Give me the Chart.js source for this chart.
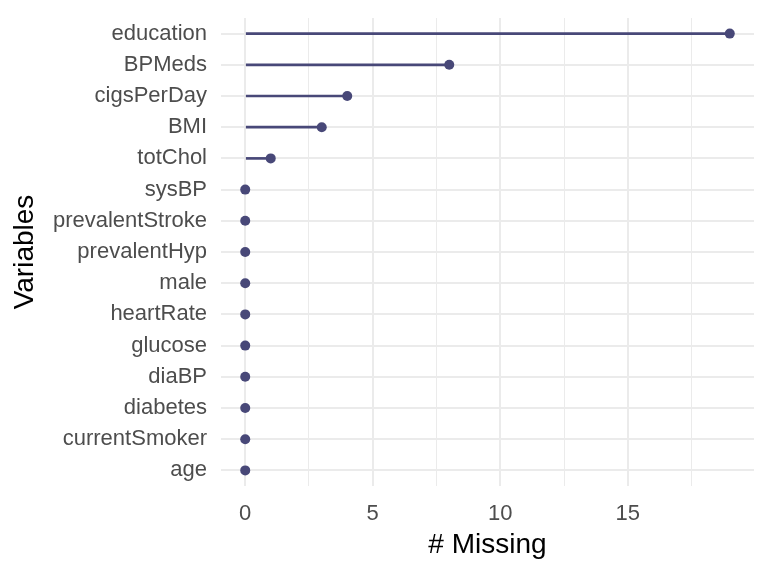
<!DOCTYPE html>
<html>
<head>
<meta charset="utf-8">
<script src="https://cdn.jsdelivr.net/npm/chart.js@4.4.0/dist/chart.umd.min.js"></script>
<style>
  html, body { margin: 0; padding: 0; background: #fff; }
  #wrap { width: 768px; height: 576px; }
</style>
</head>
<body>
<div id="wrap"><canvas id="missChart" width="768" height="576"></canvas></div>
<script>
// variables, top to bottom
const variables = ['education', 'BPMeds', 'cigsPerDay', 'BMI', 'totChol', 'sysBP',
  'prevalentStroke', 'prevalentHyp', 'male', 'heartRate', 'glucose', 'diaBP',
  'diabetes', 'currentSmoker', 'age'];
const nMissing = [19, 8, 4, 3, 1, 0, 0, 0, 0, 0, 0, 0, 0, 0, 0];

const majorTicks = [0, 5, 10, 15];
const minorTicks = [2.5, 7.5, 12.5, 17.5];

const dotColor = '#484878';
const gridColor = '#ebebeb';
const fontFamily = '"Liberation Sans", Arial, sans-serif';

const ctx = document.getElementById('missChart').getContext('2d');
new Chart(ctx, {
  type: 'bar',
  data: {
    labels: variables,
    datasets: [
      {
        type: 'bar',
        indexAxis: 'y',
        data: nMissing,
        backgroundColor: dotColor,
        borderWidth: 0,
        barThickness: 2,
        order: 2
      },
      {
        type: 'line',
        indexAxis: 'y',
        data: nMissing,
        showLine: false,
        pointRadius: 5,
        pointHoverRadius: 5,
        pointBackgroundColor: dotColor,
        pointBorderWidth: 0,
        order: 1
      }
    ]
  },
  options: {
    indexAxis: 'y',
    responsive: false,
    animation: false,
    layout: { padding: { left: 0, right: 14, top: 18, bottom: 0 } },
    plugins: {
      legend: { display: false },
      tooltip: { enabled: false }
    },
    scales: {
      x: {
        type: 'linear',
        min: -0.95,
        max: 19.95,
        afterBuildTicks: (scale) => {
          scale.ticks = majorTicks.concat(minorTicks)
            .sort((a, b) => a - b)
            .map(v => ({ value: v }));
        },
        afterFit: (scale) => {
          // fixed axis band, like the ggplot margins
          scale.height = 90;
          scale.paddingLeft = 0;
          scale.paddingRight = 0;
        },
        ticks: {
          autoSkip: false,
          maxRotation: 0,
          padding: 15,
          color: '#4d4d4d',
          font: { family: fontFamily, size: 22 },
          callback: (v) => majorTicks.includes(v) ? String(v) : ''
        },
        grid: {
          color: gridColor,
          lineWidth: (c) => majorTicks.includes(c.tick && c.tick.value) ? 2 : 1,
          drawTicks: false
        },
        border: { display: false },
        title: {
          display: true,
          text: '# Missing',
          color: '#000',
          font: { family: fontFamily, size: 28 },
          padding: { top: 0, bottom: 14 }
        }
      },
      y: {
        type: 'category',
        offset: true,
        afterFit: (scale) => {
          scale.width = 221;
          scale.paddingTop = 0;
          scale.paddingBottom = 0;
        },
        ticks: {
          padding: 14,
          color: '#4d4d4d',
          font: { family: fontFamily, size: 22 }
        },
        grid: {
          offset: false,
          color: gridColor,
          lineWidth: 2,
          drawTicks: false
        },
        border: { display: false },
        title: {
          display: true,
          text: 'Variables',
          color: '#000',
          font: { family: fontFamily, size: 28 },
          padding: { top: 8, bottom: 0 }
        }
      }
    }
  }
});
</script>
</body>
</html>
